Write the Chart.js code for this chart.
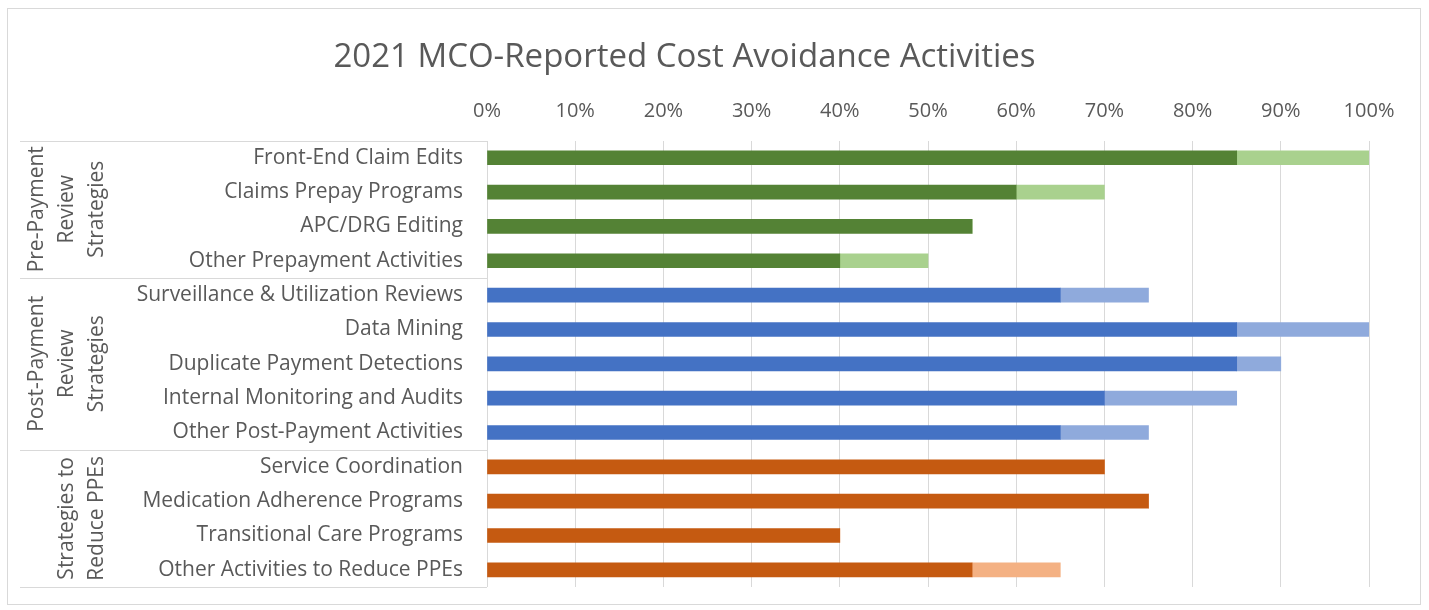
<!DOCTYPE html>
<html>
<head>
<meta charset="utf-8">
<script src="https://cdn.jsdelivr.net/npm/chart.js@4"></script>
<style>
    html, body { margin: 0; padding: 0; background: #ffffff; }
    #wrap { width: 1429px; height: 610px; }
</style>
</head>
<body>
<div id="wrap"><canvas id="grafico"></canvas></div>
<script>
const categorias = [
    "Front-End Claim Edits",
    "Claims Prepay Programs",
    "APC/DRG Editing",
    "Other Prepayment Activities",
    "Surveillance & Utilization Reviews",
    "Data Mining",
    "Duplicate Payment Detections",
    "Internal Monitoring and Audits",
    "Other Post-Payment Activities",
    "Service Coordination",
    "Medication Adherence Programs",
    "Transitional Care Programs",
    "Other Activities to Reduce PPEs"
];

const valoresBase = [85, 60, 55, 40, 65, 85, 85, 70, 65, 70, 75, 40, 55];
const valoresExtra = [15, 10, 0, 10, 10, 15, 5, 15, 10, 0, 0, 0, 10];

const grupos = [
    ["Pre-Payment", "Review", "Strategies"],
    ["Post-Payment", "Review", "Strategies"],
    ["Strategies to", "Reduce PPEs"]
];
const tamanhoGrupos = [4, 5, 4];

const ticksX = [0, 10, 20, 30, 40, 50, 60, 70, 80, 90, 100];

const coresEscuras = ["#548235", "#4472c4", "#c55a11"];
const coresClaras = ["#a9d18e", "#8faadc", "#f4b183"];

// cor de cada barra conforme o grupo
const corBase = [];
const corExtra = [];
tamanhoGrupos.forEach((n, g) => {
    for (let i = 0; i < n; i++) {
        corBase.push(coresEscuras[g]);
        corExtra.push(coresClaras[g]);
    }
});

const FONTE = "'Open Sans', 'Noto Sans', sans-serif";
const CINZA = "#595959";
const LINHA = "#d9d9d9";

// ==========================
// Borda, separadores e rótulos de grupo
// ==========================
const pluginGrupos = {
    id: "grupos",
    beforeDraw(chart) {
        const ctx = chart.ctx;
        ctx.save();
        ctx.strokeStyle = LINHA;
        ctx.lineWidth = 1;
        ctx.strokeRect(7.5, 8.5, 1413, 596);
        ctx.restore();
    },
    afterDraw(chart) {
        const ctx = chart.ctx;
        const y = chart.scales.y;
        const passo = y.getPixelForValue(1) - y.getPixelForValue(0);
        const left = chart.chartArea.left;

        ctx.save();
        ctx.strokeStyle = LINHA;
        ctx.lineWidth = 1;

        let inicio = 0;
        tamanhoGrupos.forEach((n, g) => {
            const topo = y.getPixelForValue(inicio) - passo / 2;
            const fundo = y.getPixelForValue(inicio + n - 1) + passo / 2;

            [topo, fundo].forEach(p => {
                const yy = Math.round(p) + 0.5;
                ctx.beginPath();
                ctx.moveTo(20, yy);
                ctx.lineTo(left, yy);
                ctx.stroke();
            });

            // texto rotacionado
            const linhas = grupos[g];
            const meio = (topo + fundo) / 2;
            ctx.fillStyle = CINZA;
            ctx.font = "21px " + FONTE;
            ctx.textAlign = "center";
            ctx.textBaseline = "middle";
            linhas.forEach((txt, k) => {
                const x = 97 - (linhas.length - 1 - k) * 30;
                ctx.save();
                ctx.translate(x, meio);
                ctx.rotate(-Math.PI / 2);
                ctx.fillText(txt, 0, 0);
                ctx.restore();
            });

            inicio += n;
        });
        ctx.restore();
    }
};

const ctxGrafico = document.getElementById("grafico").getContext("2d");

new Chart(ctxGrafico, {

    type: "bar",

    data: {
        labels: categorias,
        datasets: [
            {
                label: "Base",
                data: valoresBase,
                backgroundColor: corBase,
                barThickness: 14
            },
            {
                label: "Extra",
                data: valoresExtra,
                backgroundColor: corExtra,
                barThickness: 14
            }
        ]
    },

    options: {
        indexAxis: "y",
        responsive: true,
        maintainAspectRatio: false,
        animation: false,

        layout: {
            padding: { top: 0, right: 60, bottom: 23, left: 0 }
        },

        plugins: {
            legend: { display: false },
            tooltip: { enabled: false },
            title: {
                display: true,
                text: "2021 MCO-Reported Cost Avoidance Activities",
                color: CINZA,
                font: { family: FONTE, size: 33, weight: "normal" },
                padding: { top: 38, bottom: 2 }
            }
        },

        scales: {
            x: {
                position: "top",
                stacked: true,
                min: 0,
                max: 100,
                afterBuildTicks(scale) {
                    scale.ticks = ticksX.map(v => ({ value: v }));
                },
                afterFit(scale) {
                    scale.height = 61;
                },
                ticks: {
                    color: CINZA,
                    font: { family: FONTE, size: 20 },
                    padding: 17,
                    callback: v => v + "%"
                },
                grid: {
                    color: LINHA,
                    drawTicks: false
                },
                border: { display: false }
            },
            y: {
                stacked: true,
                afterFit(scale) {
                    scale.width = 487;
                    scale.paddingTop = 0;
                    scale.paddingBottom = 0;
                },
                ticks: {
                    color: CINZA,
                    font: { family: FONTE, size: 21 },
                    padding: 24,
                    autoSkip: false
                },
                grid: {
                    display: false,
                    drawTicks: false
                },
                border: { display: false }
            }
        }
    },

    plugins: [pluginGrupos]

});
</script>
</body>
</html>
